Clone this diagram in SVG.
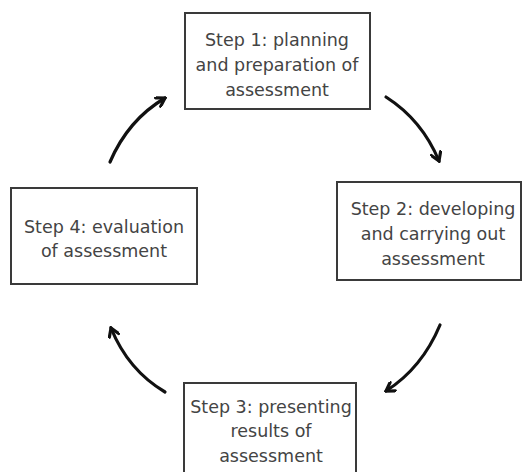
<svg xmlns="http://www.w3.org/2000/svg" width="523" height="472" viewBox="0 0 523 472">
<style>
.box{fill:#fff;stroke:#3a3a3a;stroke-width:2}
.t{font-family:"DejaVu Sans",sans-serif;font-size:17.5px;fill:#444;text-anchor:middle}
.arr{fill:none;stroke:#111;stroke-width:3.2;stroke-linecap:round;marker-end:url(#ah)}
</style>
<defs>
<marker id="ah" viewBox="0 0 12 12" refX="10" refY="6" markerWidth="12" markerHeight="12" markerUnits="userSpaceOnUse" orient="auto">
<path d="M2,1 L10,6 L2,11" fill="none" stroke="#111" stroke-width="3.2" stroke-linecap="round" stroke-linejoin="miter"/>
</marker>
</defs>
<rect width="523" height="472" fill="#fff"/>
<g id="connectors">
<path class="arr" d="M110,162 Q128,120 165,98"/>
<path class="arr" d="M386,97 Q422,120 439,161"/>
<path class="arr" d="M440,325 Q422,368 386,391"/>
<path class="arr" d="M165,392 Q128,370 111,328"/>
</g>
<g id="step1">
<rect class="box" x="185" y="13" width="185" height="96"/>
<text class="t" x="277" y="46">Step 1: planning</text>
<text class="t" x="277" y="71">and preparation of</text>
<text class="t" x="277" y="96">assessment</text>
</g>
<g id="step2">
<rect class="box" x="337" y="182" width="184" height="98"/>
<text class="t" x="433" y="215">Step 2: developing</text>
<text class="t" x="433" y="240">and carrying out</text>
<text class="t" x="433" y="265">assessment</text>
</g>
<g id="step3">
<rect class="box" x="184" y="383" width="172" height="100"/>
<text class="t" x="271" y="413">Step 3: presenting</text>
<text class="t" x="271" y="437">results of</text>
<text class="t" x="271" y="462">assessment</text>
</g>
<g id="step4">
<rect class="box" x="11" y="188" width="186" height="96"/>
<text class="t" x="104" y="233">Step 4: evaluation</text>
<text class="t" x="104" y="257">of assessment</text>
</g>
</svg>
